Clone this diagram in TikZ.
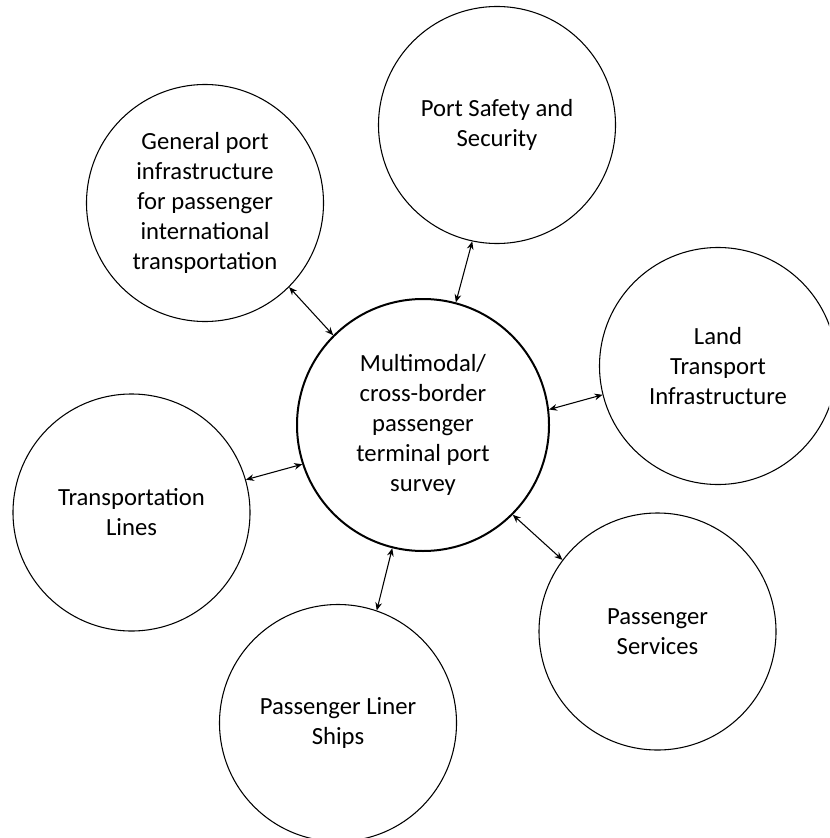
\documentclass[tikz,border=0pt]{standalone}
\usepackage{fontspec}
\setmainfont{Carlito}
\usetikzlibrary{arrows.meta}
\tikzset{topic/.style={draw, circle, minimum size=177.75pt, inner sep=0pt,
        line width=.8pt, align=center, font=\fontsize{18.5}{22.5}\selectfont},
    hub/.style={topic, minimum size=189pt, line width=1.5pt},
    link/.style={{Stealth[length=6pt,width=5pt]}-{Stealth[length=6pt,width=5pt]},
        line width=.8pt}
}

\begin{document}
\begin{tikzpicture}[x=.75pt,y=-.75pt]
      \clip (0,0) rectangle (829,838);

      \node[hub] (M) at (423,425) {Multimodal/\\cross-border\\passenger\\terminal port\\survey};
      \node[topic] (GP) at (205,203) {General port\\infrastructure\\for passenger\\international\\transportation};
      \node[topic] (PS) at (497,125) {Port Safety and\\Security};
      \node[topic] (LT) at (718,366) {Land\\Transport\\Infrastructure};
      \node[topic] (TL) at (131.5,512.5) {Transportation\\Lines};
      \node[topic] (PL) at (338,723) {Passenger Liner\\Ships};
      \node[topic] (PV) at (657.5,631.5) {Passenger\\Services};

      \draw[link] (GP.-45) -- (M.135);
      \draw[link] (PS.-102) -- (M.75);
      \draw[link] (LT.194) -- (M.7);
      \draw[link] (TL.16) -- (M.198);
      \draw[link] (PL.71) -- (M.-104);
      \draw[link] (PV.143) -- (M.-45);
    \end{tikzpicture}
\end{document}
